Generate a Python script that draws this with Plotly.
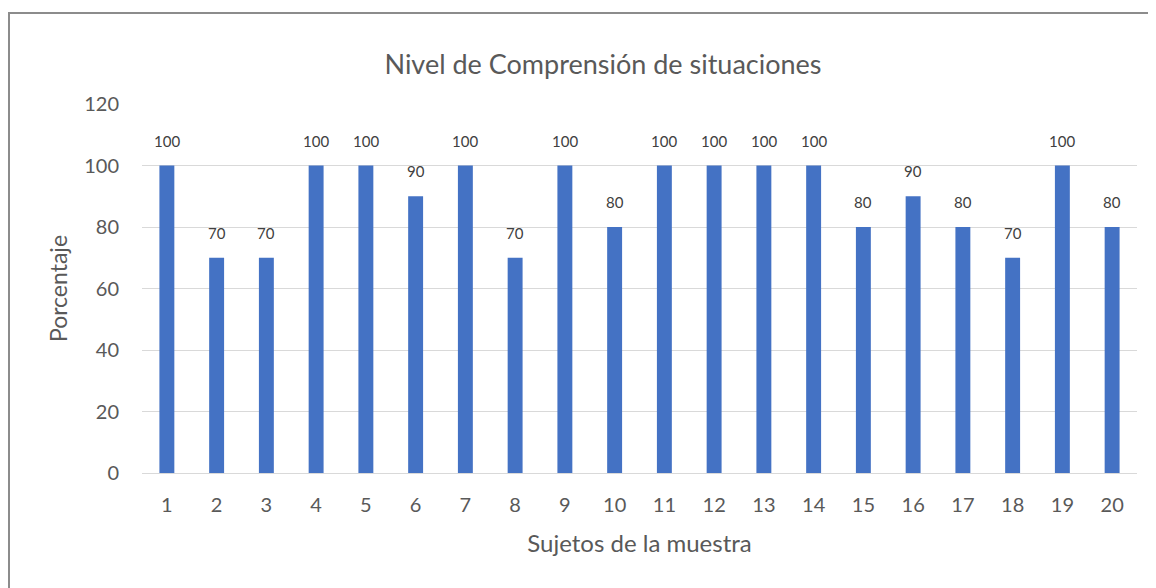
import plotly.graph_objects as go

sujetos = [str(i) for i in range(1, 21)]
porcentaje = [100, 70, 70, 100, 100, 90, 100, 70, 100, 80,
              100, 100, 100, 100, 80, 90, 80, 70, 100, 80]
y_ticks = [0, 20, 40, 60, 80, 100, 120]

FONT = "Lato, 'Open Sans', sans-serif"

fig = go.Figure(go.Bar(
    x=sujetos, y=porcentaje,
    marker=dict(color="#4472C4", line=dict(width=0)),
    cliponaxis=False,
    hoverinfo="x+y",
))

# data labels: category axis positions are the list indices
for idx, v in enumerate(porcentaje):
    fig.add_annotation(x=idx, y=v, xref="x", yref="y", text=str(v),
                       showarrow=False, yanchor="bottom", yshift=14,
                       font=dict(size=15, color="#404040", family=FONT))

# The page shows the figure with an ~8px body offset; margins compensate.
L, R, T, B = 134, 27, 96, 123
PW, PH = 1156 - L - R, 588 - T - B

fig.update_layout(
    width=1156, height=588,
    margin=dict(l=L, r=R, t=T, b=B),
    paper_bgcolor="white", plot_bgcolor="white",
    bargap=0.70,
    showlegend=False,
    title=dict(text="Nivel de Comprensión de situaciones",
               x=(595 - L) / PW, xref="paper", xanchor="center",
               y=1 - 57 / 588, yanchor="middle",
               font=dict(size=27, color="#595959", family=FONT)),
    font=dict(family=FONT, color="#595959"),
    shapes=[dict(type="rect", xref="paper", yref="paper",
                 x0=(1 - L) / PW, x1=1.2,
                 y0=-0.6, y1=1 + (T - 5) / PH,
                 line=dict(color="#8c8c8c", width=2), layer="below")],
)

fig.update_xaxes(
    type="category", range=[-0.5, 19.5],
    showgrid=False, showline=True, linecolor="#d9d9d9", linewidth=1,
    ticks="", tickfont=dict(size=20, color="#595959"),
    ticklabelstandoff=14,
    title=dict(text="Sujetos de la muestra", standoff=20,
               font=dict(size=24, color="#595959")),
)
fig.update_yaxes(
    range=[0, 120], tickvals=y_ticks,
    showgrid=True, gridcolor="#d9d9d9", gridwidth=1,
    zeroline=False, showline=False,
    ticks="", tickfont=dict(size=20, color="#595959"),
    ticklabelstandoff=22,
    title=dict(text="Porcentaje", standoff=10,
               font=dict(size=23, color="#595959")),
)

fig.write_html("out.html")
